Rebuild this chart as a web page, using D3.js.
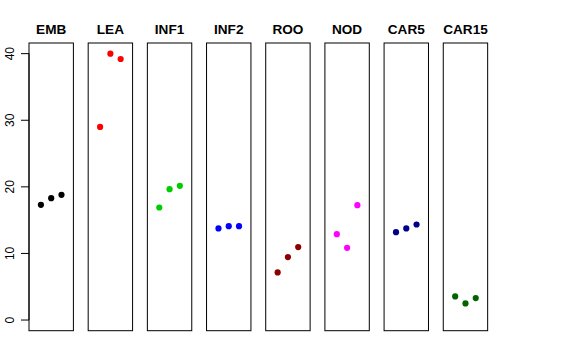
<!DOCTYPE html>
<html><head><meta charset="utf-8">
<script src="https://cdn.jsdelivr.net/npm/d3@7"></script>
<style>body{margin:0;background:#fff}</style>
</head><body><svg id="c" width="576" height="360"></svg>
<script>
const categories = ["EMB","LEA","INF1","INF2","ROO","NOD","CAR5","CAR15"];
const colors = ["#000000","#FF0000","#00CD00","#0000FF","#8B0000","#FF00FF","#00008B","#006400"];
const values = [
  [17.3,18.3,18.8],
  [29.0,40.0,39.2],
  [16.9,19.65,20.15],
  [13.75,14.1,14.1],
  [7.15,9.45,10.95],
  [12.9,10.85,17.25],
  [13.2,13.75,14.35],
  [3.55,2.5,3.3]
];
const yTicks = [0,10,20,30,40];

const svg = d3.select("#c");
const plotTop = 43, plotBottom = 330.7;
const panelW = 44.4, firstLeft = 29, step = 59.18;
const y = d3.scaleLinear().domain([-1.6,41.6]).range([plotBottom, plotTop]);
const x = d3.scaleLinear().domain([-0.16,4.16]).range([0, panelW]);
categories.forEach((c,i)=>{
  const g = svg.append("g").attr("transform",`translate(${firstLeft + i*step},0)`);
  g.append("rect").attr("x",0).attr("y",plotTop).attr("width",panelW).attr("height",plotBottom-plotTop)
    .attr("fill","none").attr("stroke","#000").attr("stroke-width",1);
  g.selectAll("circle").data(values[i]).join("circle")
    .attr("cx",(d,j)=>x(j+1)).attr("cy",d=>y(d)).attr("r",3.1).attr("fill",colors[i]);
  g.append("text").attr("x",panelW/2).attr("y",34.3).attr("text-anchor","middle")
    .attr("font-family","Liberation Sans, Arial, sans-serif").attr("font-weight","bold")
    .attr("font-size",13.6).text(c);
});
// y axis
const ax = svg.append("g").attr("transform",`translate(${firstLeft},0)`);
ax.append("line").attr("x1",0).attr("x2",0).attr("y1",y(0)).attr("y2",y(40)).attr("stroke","#000");
ax.selectAll("line.t").data(yTicks).join("line").attr("class","t")
  .attr("x1",-8).attr("x2",0).attr("y1",d=>y(d)).attr("y2",d=>y(d)).attr("stroke","#000");
ax.selectAll("text").data(yTicks).join("text")
  .attr("transform",d=>`translate(-15.5,${y(d)}) rotate(-90)`)
  .attr("text-anchor","middle").attr("font-family","Liberation Sans, Arial, sans-serif")
  .attr("font-size",12).text(d=>d);
</script></body></html>
